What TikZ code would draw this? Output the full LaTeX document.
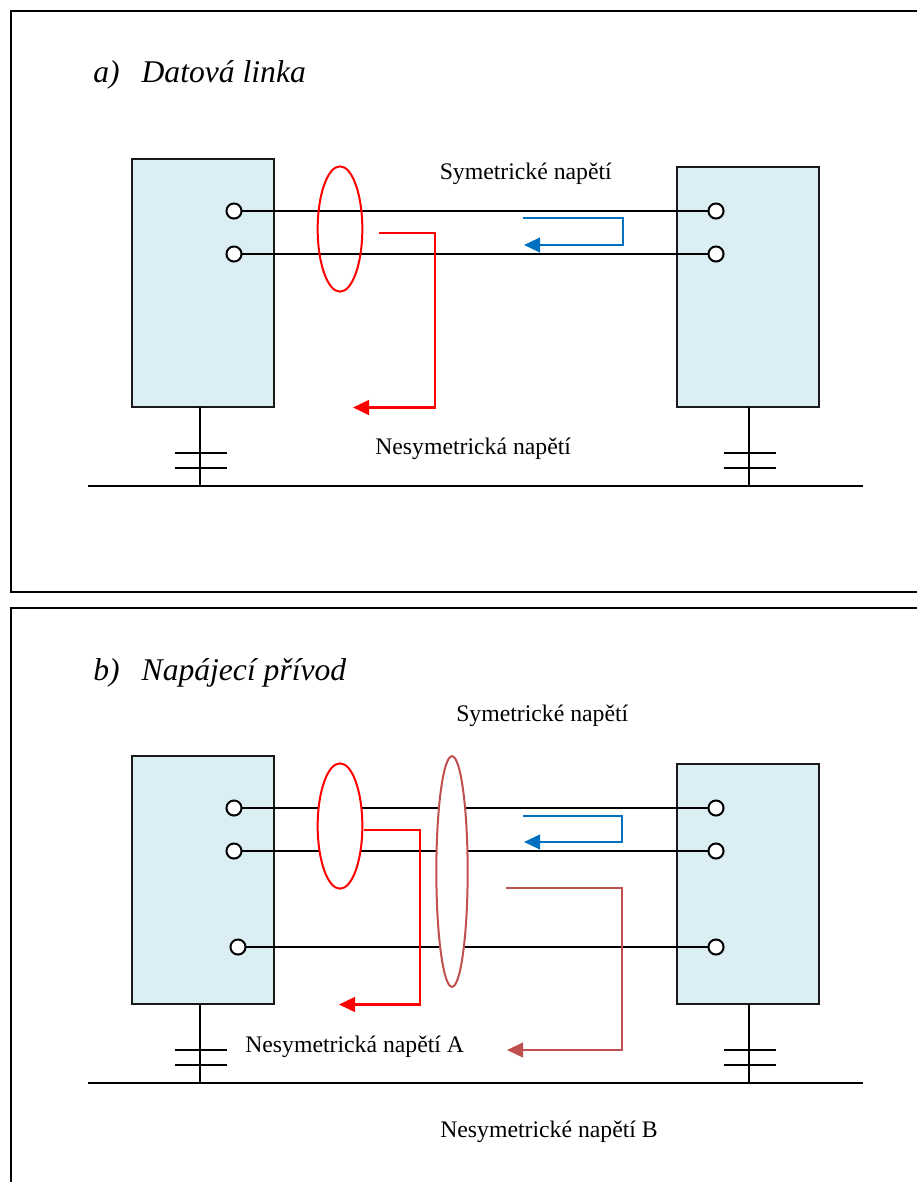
\documentclass[tikz,border=0pt]{standalone}
\usepackage{fontspec}
\setmainfont{Liberation Serif}
\usetikzlibrary{shapes.geometric,arrows.meta}
\definecolor{boxfill}{HTML}{DAEEF3}
\definecolor{bluearrow}{HTML}{0070C0}
\definecolor{brownred}{HTML}{C0504D}
\tikzset{
  boxnode/.style={draw=black!90,fill=boxfill,line width=1.8pt,inner sep=0pt,outer sep=0pt,minimum width=106.5pt},
  port/.style={circle,draw=black,fill=white,line width=1.5pt,inner sep=0pt,outer sep=0pt,minimum size=11.3pt},
  wire/.style={line width=1.5pt,black},
  plate/.style={line width=1.5pt,black},
  framel/.style={line width=1.5pt,black},
  lab/.style={anchor=base west,inner sep=0pt,font=\fontsize{17.8pt}{20pt}\selectfont},
  head/.style={anchor=base west,inner sep=0pt,font=\fontsize{23.7pt}{28pt}\selectfont\itshape},
  loop/.style={ellipse,draw=red,line width=1.5pt,inner sep=0pt,outer sep=0pt,minimum width=33.5pt,minimum height=94pt},
  redline/.style={draw=red,line width=1.9pt,-{Triangle[length=12pt,width=11pt]}},
  blueline/.style={draw=bluearrow,line width=1.6pt,-{Triangle[length=12pt,width=11pt]}},
  brownline/.style={draw=brownred,line width=1.6pt,-{Triangle[length=12pt,width=11pt]}},
}
\begin{document}
\begin{tikzpicture}[x=0.75pt,y=-0.75pt]
\useasboundingbox (0,0) rectangle (917,1182);
% frames
\coordinate (fa1) at (917,11); \coordinate (fa2) at (10.5,11); \coordinate (fa3) at (10.5,591.5); \coordinate (fa4) at (917,591.5);
\coordinate (fb1) at (917,607.5); \coordinate (fb2) at (10.5,607.5); \coordinate (fb3) at (10.5,1182);
\draw[framel] (fa1) -- (fa2) -- (fa3) -- (fa4);
\draw[framel] (fb1) -- (fb2) -- (fb3);
% headings
\node[head] (ha) at (93,82) {a)\hspace{0.7em}Datová linka};
\node[head] (hb) at (93,680) {b)\hspace{0.7em}Napájecí přívod};
% --- part a ---
\node[boxnode,minimum height=186pt] (La) at (203,283) {};
\node[boxnode,minimum height=180pt] (Ra) at (748,287) {};
\coordinate (gaw) at (88,486); \coordinate (gae) at (863,486);
\draw[plate] (gaw) -- (gae);
\coordinate (sal) at (200,486); \coordinate (sar) at (749,486);
\draw[plate] (La.south -| sal) -- (sal);
\draw[plate] (Ra.south -| sar) -- (sar);
\foreach \n/\x/\y in {a/201/453,b/201/467.5,c/749.5/453,d/749.5/467.5}{
  \coordinate (pa\n w) at (\x-26,\y); \coordinate (pa\n e) at (\x+26,\y);
  \draw[plate] (pa\n w) -- (pa\n e);}
\node[port] (a1) at (234,211) {};
\node[port] (a2) at (234,254) {};
\node[port] (a3) at (716,211) {};
\node[port] (a4) at (716,254) {};
\draw[wire] (a1) -- (a3);
\draw[wire] (a2) -- (a4);
\node[loop] (ea) at (340,229) {};
\coordinate (ra0) at (379,233); \coordinate (ra1) at (435,233); \coordinate (ra2) at (435,407.5); \coordinate (ra3) at (353,407.5);
\draw[redline] (ra0) -- (ra1) -- (ra2) -- (ra3);
\coordinate (ba0) at (523,218); \coordinate (ba1) at (623,218); \coordinate (ba2) at (623,245); \coordinate (ba3) at (524,245);
\draw[blueline] (ba0) -- (ba1) -- (ba2) -- (ba3);
\node[lab] (ta1) at (439.5,179) {Symetrické napětí};
\node[lab] (ta2) at (375,454) {Nesymetrická napětí};
% --- part b ---
\node[boxnode,minimum height=186pt] (Lb) at (203,880) {};
\node[boxnode,minimum height=180pt] (Rb) at (748,884) {};
\coordinate (gbw) at (88,1083); \coordinate (gbe) at (863,1083);
\draw[plate] (gbw) -- (gbe);
\coordinate (sbl) at (200,1083); \coordinate (sbr) at (749,1083);
\draw[plate] (Lb.south -| sbl) -- (sbl);
\draw[plate] (Rb.south -| sbr) -- (sbr);
\foreach \n/\x/\y in {a/201/1050,b/201/1064.5,c/749.5/1050,d/749.5/1064.5}{
  \coordinate (pb\n w) at (\x-26,\y); \coordinate (pb\n e) at (\x+26,\y);
  \draw[plate] (pb\n w) -- (pb\n e);}
\node[port] (b1) at (234,808) {};
\node[port] (b2) at (234,851) {};
\node[port] (b3) at (238,947) {};
\node[port] (b4) at (716,808) {};
\node[port] (b5) at (716,851) {};
\node[port] (b6) at (716,947) {};
\draw[wire] (b1) -- (b4);
\draw[wire] (b2) -- (b5);
\draw[wire] (b3) -- (b6);
\node[loop,fill=white] (eb) at (340,826) {};
\node[loop,fill=white,draw=brownred,minimum width=23.5pt,minimum height=173pt] (ec) at (452,871.5) {};
\coordinate (rb0) at (364,830); \coordinate (rb1) at (420,830); \coordinate (rb2) at (420,1004.5); \coordinate (rb3) at (339,1004.5);
\draw[redline] (rb0) -- (rb1) -- (rb2) -- (rb3);
\coordinate (bb0) at (523,816); \coordinate (bb1) at (622,816); \coordinate (bb2) at (622,842); \coordinate (bb3) at (524,842);
\draw[blueline] (bb0) -- (bb1) -- (bb2) -- (bb3);
\coordinate (cb0) at (506,888); \coordinate (cb1) at (622,888); \coordinate (cb2) at (622,1050); \coordinate (cb3) at (507,1050);
\draw[brownline] (cb0) -- (cb1) -- (cb2) -- (cb3);
\node[lab] (tb1) at (456,721) {Symetrické napětí};
\node[lab] (tb2) at (245,1052) {Nesymetrická napětí A};
\node[lab] (tb3) at (440,1137) {Nesymetrické napětí B};
\end{tikzpicture}
\end{document}
